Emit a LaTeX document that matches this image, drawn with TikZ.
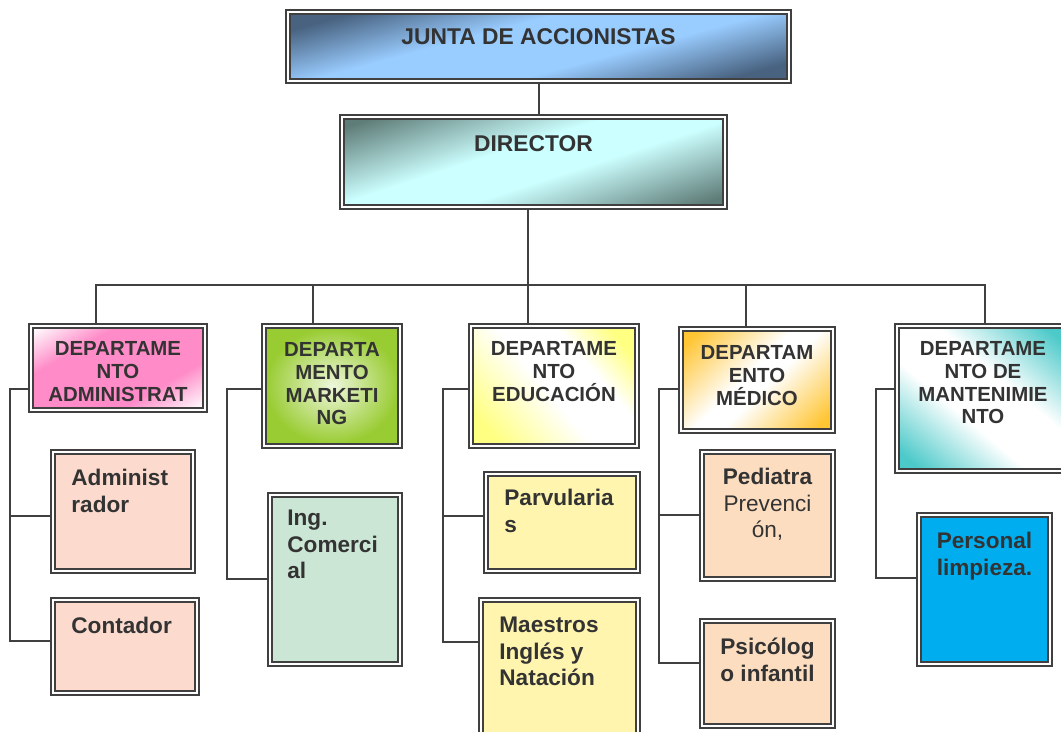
\documentclass[tikz,border=0pt]{standalone}
\usepackage{fontspec}
\setmainfont{Liberation Sans}
\usepackage{xcolor}
\usepackage{tikz}
\usetikzlibrary{positioning}

\definecolor{linec}{RGB}{64,64,64}
\definecolor{txtc}{RGB}{51,51,51}
\definecolor{juntaend}{RGB}{72,98,128}
\definecolor{juntamid}{RGB}{153,204,255}
\definecolor{dirend}{RGB}{95,125,120}
\definecolor{dirmid}{RGB}{204,255,255}
\definecolor{adminpink}{RGB}{255,140,200}
\definecolor{mktgreen}{RGB}{153,204,51}
\definecolor{mktlight}{RGB}{238,247,220}
\definecolor{educyellow}{RGB}{255,255,130}
\definecolor{medorange}{RGB}{255,197,51}
\definecolor{mantteal}{RGB}{76,201,201}
\definecolor{peach}{RGB}{252,219,206}
\definecolor{mint}{RGB}{204,230,214}
\definecolor{cream}{RGB}{255,245,175}
\definecolor{apricot}{RGB}{253,221,192}
\definecolor{skyblue}{RGB}{0,174,239}

% corner-to-corner fills
\pgfdeclareverticalshading{juntashade}{100bp}{color(0bp)=(juntaend); color(29bp)=(juntaend); color(43bp)=(juntamid); color(57bp)=(juntamid); color(71bp)=(juntaend); color(100bp)=(juntaend)}
\pgfdeclareverticalshading{dirshade}{100bp}{color(0bp)=(dirend); color(27bp)=(dirend); color(45bp)=(dirmid); color(55bp)=(dirmid); color(73bp)=(dirend); color(100bp)=(dirend)}
\pgfdeclareverticalshading{adminshade}{100bp}{color(0bp)=(white); color(25bp)=(white); color(38bp)=(adminpink); color(62bp)=(adminpink); color(75bp)=(white); color(100bp)=(white)}
\pgfdeclareverticalshading{educshade}{100bp}{color(0bp)=(educyellow); color(30bp)=(educyellow); color(48bp)=(white); color(60bp)=(white); color(70bp)=(educyellow); color(100bp)=(educyellow)}
\pgfdeclareverticalshading{medshade}{100bp}{color(0bp)=(medorange); color(28bp)=(medorange); color(47bp)=(white); color(53bp)=(white); color(72bp)=(medorange); color(100bp)=(medorange)}
\pgfdeclareverticalshading{mantshade}{100bp}{color(0bp)=(mantteal); color(28bp)=(mantteal); color(44bp)=(white); color(56bp)=(white); color(72bp)=(mantteal); color(100bp)=(mantteal)}

\begin{document}
\begin{tikzpicture}[
    x=0.5pt, y=-0.5pt,
    box/.style={rectangle, draw=linec, line width=1.4pt, inner sep=0pt, outer sep=2.5pt,
        preaction={draw=linec, line width=5pt},
        preaction={draw=white, line width=3.2pt}},
    boxsize/.style 2 args={minimum width=#1, minimum height=#2},
    glossy/.style n args={3}{box, path picture={
        \begin{scope}[transform canvas={shift={(path picture bounding box.center)}, rotate=#2}]
          \pgftransformreset
          \shade[shading=#1] (-300pt,-#3) rectangle (300pt,#3);
        \end{scope}}},
    headtxt/.style={font=\bfseries\fontsize{11.4}{13}\selectfont, text=txtc, inner sep=0pt},
    depttxt/.style={font=\bfseries\fontsize{10.2}{11.4}\selectfont, text=txtc, align=center, inner sep=0pt},
    stafftxt/.style={font=\bfseries\fontsize{11.3}{13.2}\selectfont, text=txtc, align=left, inner sep=0pt},
    conn/.style={draw=linec, line width=1pt},
]
\useasboundingbox (0,0) rectangle (1061,732);
\clip (0,0) rectangle (1061,732);

% Top
\node[glossy={juntashade}{15}{47.9pt}, boxsize={248.5pt}{32.5pt}] (junta) at (538.5,46.5) {};
\node[headtxt, below=9.5pt of junta.north] (juntaT) {JUNTA DE ACCIONISTAS};

\node[glossy={dirshade}{18}{49.7pt}, boxsize={189.5pt}{43pt}] (director) at (533.5,162) {};
\node[headtxt, below=10.5pt of director.north] (directorT) {DIRECTOR};

% Departments
\node[glossy={adminshade}{30}{38.6pt}, boxsize={85pt}{40pt}] (admin) at (118,368) {};
\node[box, inner color=mktlight, outer color=mktgreen, boxsize={66pt}{58pt}] (mkt) at (332,386) {};
\node[glossy={educshade}{-50}{49.6pt}, boxsize={81pt}{58pt}] (educ) at (554,386) {};
\node[glossy={medshade}{45}{43.5pt}, boxsize={74pt}{49pt}] (medico) at (757,380) {};
\node[glossy={mantshade}{-40}{54pt}, boxsize={84pt}{70.5pt}] (manten) at (983,398.5) {};

\node[depttxt, below=9pt of admin.north] (adminT) {DEPARTAME\\NTO\\ADMINISTRAT};
\node[depttxt, below=9.5pt of mkt.north] (mktT) {DEPARTA\\MENTO\\MARKETI\\NG};
\node[depttxt, below=9pt of educ.north] (educT) {DEPARTAME\\NTO\\EDUCACIÓN};
\node[depttxt, below=9.5pt of medico.north] (medicoT) {DEPARTAM\\ENTO\\MÉDICO};
\node[depttxt, below=9pt of manten.north] (mantenT) {DEPARTAME\\NTO DE\\MANTENIMIE\\NTO};

% Staff
\node[box, fill=peach, boxsize={68pt}{57.5pt}] (admr) at (123,511.5) {};
\node[box, fill=peach, boxsize={70pt}{44.5pt}, below=11.5pt of admr.south west, anchor=north west] (cont) {};
\node[box, fill=mint, boxsize={63pt}{82.5pt}] (ingc) at (335,579.5) {};
\node[box, fill=cream, boxsize={74pt}{46.5pt}] (parv) at (562,522.5) {};
\node[box, fill=cream, boxsize={76.5pt}{71.5pt}, below=11.5pt of parv.south east, anchor=north east] (maes) {};
\node[box, fill=apricot, boxsize={63.5pt}{61.5pt}] (ped) at (767.5,515.5) {};
\node[box, fill=apricot, boxsize={63.5pt}{50.5pt}, below=18pt of ped.south] (psi) {};
\node[box, fill=skyblue, boxsize={63.5pt}{72.5pt}] (pers) at (984.5,589.5) {};

\node[stafftxt, below right=10pt and 10.5pt of admr.north west] (admrT) {Administ\\rador};
\node[stafftxt, below right=10pt and 10.5pt of cont.north west] (contT) {Contador};
\node[stafftxt, below right=9pt and 10pt of ingc.north west] (ingcT) {Ing.\\Comerci\\al};
\node[stafftxt, below right=9pt and 10.5pt of parv.north west] (parvT) {Parvularia\\s};
\node[stafftxt, below right=10pt and 10.5pt of maes.north west] (maesT) {Maestros\\Inglés y\\Natación};
\node[stafftxt, align=center, below=9.5pt of ped.north] (pedT) {Pediatra\\{\mdseries Prevenci}\\{\mdseries ón,}};
\node[stafftxt, align=center, below=10pt of psi.north] (psiT) {Psicólog\\o infantil};
\node[stafftxt, align=center, below=10pt of pers.north] (persT) {Personal\\limpieza.};

% Edges
\coordinate (bus) at (528,285);
\draw[conn] (junta.south) -- (junta.south |- director.north);
\draw[conn] ([xshift=-2.75pt]director.south) -- ([xshift=-13pt]educ.north);
\draw[conn] ([xshift=-11pt]admin.north) |- (bus) -| ([xshift=1pt]manten.north);
\draw[conn] ([xshift=-9.5pt]mkt.north) |- (bus);
\draw[conn] ([xshift=-5.5pt]medico.north) |- (bus);

\draw[conn] ([yshift=-10.5pt]admin.west) -- ++(-18,0) |- ([yshift=2.75pt]cont.west);
\draw[conn] ([yshift=-2.25pt]admr.west) -- ++(-40,0);
\draw[conn] ([yshift=-1.5pt]mkt.west) -- ++(-34,0) |- (ingc.west);
\draw[conn] ([yshift=-1.5pt]educ.west) -- ++(-25,0) |- ([yshift=15.75pt]maes.west);
\draw[conn] ([yshift=3.25pt]parv.west) -- ++(-40,0);
\draw[conn] ([yshift=-4.5pt]medico.west) -- ++(-19,0) |- ([yshift=5.25pt]psi.west);
\draw[conn] (ped.west) -- ++(-40,0);
\draw[conn] ([yshift=4.75pt]manten.west) -- ++(-18,0) |- ([yshift=5.75pt]pers.west);

\end{tikzpicture}
\end{document}
